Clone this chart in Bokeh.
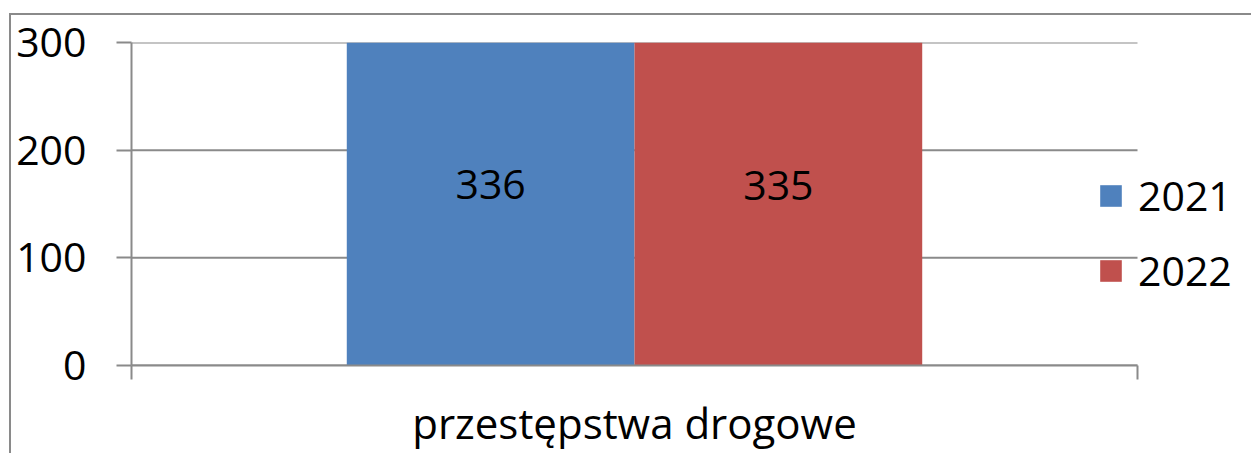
from bokeh.plotting import figure
from bokeh.models import (ColumnDataSource, Range1d, FixedTicker, Legend, LegendItem,
                          LabelSet)
from bokeh.core.properties import value
from bokeh.transform import dodge
from bokeh.embed import file_html
from bokeh.resources import INLINE

categories = ["przestępstwa drogowe"]
years = ["2021", "2022"]
values_2021 = [336]
values_2022 = [335]
y_ticks = [0, 100, 200, 300]
colors = ["#4F81BD", "#C0504D"]

FONT = "Open Sans"
GRAY = "#8a8a8a"

n = len(categories)
centers = [i + 0.5 for i in range(n)]
edges = [i for i in range(n + 1)]

# layout: plot area 1006 px wide inside a wider frame that also holds the legend
PLOT_W = 1006
FRAME_W = 1114

src = ColumnDataSource(dict(x=centers, v2021=values_2021, v2022=values_2022,
                            h2021=[v / 2 for v in values_2021],
                            h2022=[v / 2 for v in values_2022],
                            t2021=[str(v) for v in values_2021],
                            t2022=[str(v) for v in values_2022]))

p = figure(width=1242, height=453, output_backend="svg", toolbar_location=None,
           x_range=Range1d(0, n * FRAME_W / PLOT_W), y_range=Range1d(0, 300),
           min_border_left=122, min_border_top=42, min_border_right=6, min_border_bottom=86)
p.margin = (0, 0, 0, 9)
# outer chart-area border (top and left edges) drawn as a CSS background behind a transparent canvas
p.styles = {"background": (f"linear-gradient({GRAY},{GRAY}) 0 13px / 100% 2px no-repeat, "
                           f"linear-gradient({GRAY},{GRAY}) 0 13px / 2px 100% no-repeat, white")}
p.outline_line_color = None
p.background_fill_color = "white"
p.border_fill_color = None

# horizontal gridlines spanning only the plot area
p.xgrid.visible = False
p.ygrid.visible = False
p.segment(x0=[0] * len(y_ticks), x1=[n] * len(y_ticks), y0=y_ticks, y1=y_ticks,
          line_color=GRAY, line_width=2)

bw = 0.286
r1 = p.vbar(x=dodge("x", -bw / 2, range=p.x_range), top="v2021", width=bw, source=src,
            color=colors[0], line_color=None)
r2 = p.vbar(x=dodge("x", bw / 2, range=p.x_range), top="v2022", width=bw, source=src,
            color=colors[1], line_color=None)

for col, txt, off in (("h2021", "t2021", -bw / 2), ("h2022", "t2022", bw / 2)):
    p.add_layout(LabelSet(x=dodge("x", off, range=p.x_range), y=col, text=txt, source=src,
                          text_font=value(FONT), text_font_size="41px", text_color="black",
                          text_align="center", text_baseline="middle"))

yax = p.yaxis[0]
yax.ticker = FixedTicker(ticks=y_ticks)
yax.axis_line_color = GRAY
yax.axis_line_width = 2
yax.major_tick_line_color = GRAY
yax.major_tick_line_width = 2
yax.major_tick_in = 0
yax.major_tick_out = 15
yax.minor_tick_line_color = None
yax.major_label_standoff = 30
yax.major_label_text_font = FONT
yax.major_label_text_font_size = "41px"
yax.major_label_text_color = "black"

xax = p.xaxis[0]
xax.bounds = (0, n)
xax.ticker = FixedTicker(ticks=centers, minor_ticks=edges)
xax.major_label_overrides = {c: name for c, name in zip(centers, categories)}
xax.axis_line_color = GRAY
xax.axis_line_width = 2
xax.major_tick_line_color = None
xax.major_tick_out = 0
xax.major_tick_in = 0
xax.minor_tick_line_color = GRAY
xax.minor_tick_line_width = 2
xax.minor_tick_in = 0
xax.minor_tick_out = 14
xax.major_label_standoff = 14
xax.major_label_text_font = FONT
xax.major_label_text_font_size = "42px"
xax.major_label_text_color = "black"

legend = Legend(items=[LegendItem(label=years[0], renderers=[r1]),
                       LegendItem(label=years[1], renderers=[r2])],
                location=(966, 67), orientation="vertical",
                glyph_width=27, glyph_height=27, label_standoff=14, spacing=19,
                padding=0, margin=0, border_line_color=None, background_fill_alpha=0,
                label_text_font=FONT, label_text_font_size="41px", label_text_color="black")
p.add_layout(legend, "center")

open("out.html", "w").write(file_html(p, INLINE))
